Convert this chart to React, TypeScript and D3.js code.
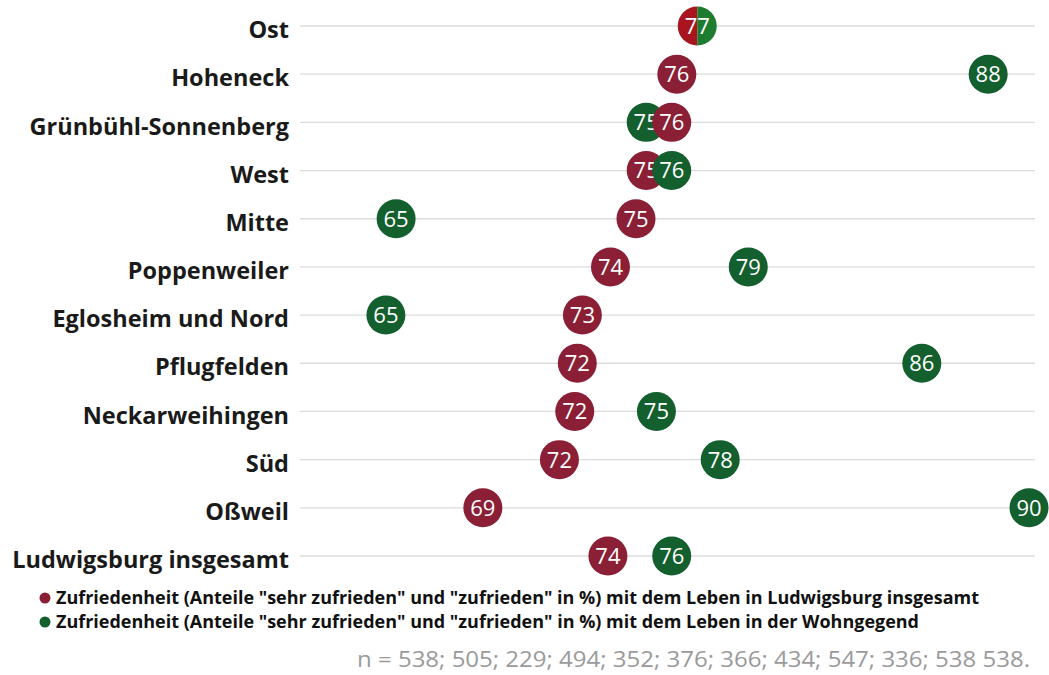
import React, { useEffect, useRef } from 'react';
import * as d3 from 'd3';

const districts = [
  'Ost', 'Hoheneck', 'Grünbühl-Sonnenberg', 'West', 'Mitte', 'Poppenweiler',
  'Eglosheim und Nord', 'Pflugfelden', 'Neckarweihingen', 'Süd', 'Oßweil',
  'Ludwigsburg insgesamt',
];
// Zufriedenheit mit dem Leben in Ludwigsburg insgesamt (%)
const cityValues = [77.0, 76.2, 76.0, 75.0, 74.6, 73.6, 72.5, 72.3, 72.2, 71.6, 68.6, 73.5];
// Zufriedenheit mit dem Leben in der Wohngegend (%)
const areaValues = [77.0, 88.4, 75.0, 76.0, 65.2, 79.0, 64.8, 85.8, 75.4, 77.9, 90.0, 76.0];

const legendLabels = [
  'Zufriedenheit (Anteile "sehr zufrieden" und "zufrieden" in %) mit dem Leben in Ludwigsburg insgesamt',
  'Zufriedenheit (Anteile "sehr zufrieden" und "zufrieden" in %) mit dem Leben in der Wohngegend',
];
const note = 'n = 538; 505; 229; 494; 352; 376; 366; 434; 547; 336; 538 538.';

const RED = '#8a1f35';
const GREEN = '#135f2d';
const RED_HI = '#a8151f';
const GREEN_HI = '#1e7c30';

function App() {
  const ref = useRef<SVGSVGElement>(null);

  useEffect(() => {
    const svg = d3.select(ref.current);
    svg.selectAll('*').remove();

    const x = d3.scaleLinear().domain([65, 90]).range([391, 1029]);
    const y = d3.scalePoint<string>().domain(districts).range([26, 556]);
    const r = 19.5;
    const font = "'Open Sans', sans-serif";

    // grid lines
    svg.append('g')
      .selectAll('line')
      .data(districts)
      .enter().append('line')
      .attr('x1', 300).attr('x2', 1035)
      .attr('y1', (d) => y(d)!).attr('y2', (d) => y(d)!)
      .attr('stroke', '#dcdcdc').attr('stroke-width', 1.3);

    // category labels
    svg.append('g')
      .selectAll('text')
      .data(districts)
      .enter().append('text')
      .attr('x', 289)
      .attr('y', (d) => y(d)! + 4)
      .attr('dy', '0.35em')
      .attr('text-anchor', 'end')
      .style('font-family', font)
      .style('font-weight', 700)
      .style('font-size', '23.5px')
      .style('fill', '#1a1a1a')
      .text((d) => d);

    const pts: { name: string; v: number; color: string }[] = [];
    districts.forEach((name, i) => {
      const a = { name, v: cityValues[i], color: RED };
      const b = { name, v: areaValues[i], color: GREEN };
      if (a.v === b.v) return;
      // right-most point on top
      if (a.v < b.v) pts.push(a, b); else pts.push(b, a);
    });

    const dots = svg.append('g');
    const g = dots.selectAll('g')
      .data(pts)
      .enter().append('g')
      .attr('transform', (d) => `translate(${x(d.v)},${y(d.name)})`);
    g.append('circle').attr('r', r).attr('fill', (d) => d.color);
    g.append('text')
      .attr('text-anchor', 'middle')
      .attr('dy', '0.36em')
      .style('font-family', font)
      .style('font-size', '22px')
      .style('fill', '#fff')
      .text((d) => Math.round(d.v));

    // equal values: split circle
    const half = d3.arc<any>().innerRadius(0).outerRadius(r);
    districts.forEach((name, i) => {
      const a = cityValues[i], b = areaValues[i];
      if (a !== b) return;
      const s = dots.append('g').attr('transform', `translate(${x(a)},${y(name)})`);
      s.append('path').attr('d', half({ startAngle: Math.PI, endAngle: 2 * Math.PI })).attr('fill', RED_HI);
      s.append('path').attr('d', half({ startAngle: 0, endAngle: Math.PI })).attr('fill', GREEN_HI);
      s.append('text')
        .attr('text-anchor', 'middle')
        .attr('dy', '0.36em')
        .style('font-family', font)
        .style('font-size', '22px')
        .style('fill', '#fff')
        .text(Math.round(a));
    });

    // legend
    const lg = svg.append('g');
    const legendWidths = [923, 863];
    legendLabels.forEach((t, i) => {
      const ly = 598 + i * 24;
      lg.append('circle').attr('cx', 45).attr('cy', ly).attr('r', 5.5).attr('fill', i === 0 ? RED : GREEN);
      lg.append('text')
        .attr('x', 56).attr('y', ly)
        .attr('dy', '0.35em')
        .attr('textLength', legendWidths[i])
        .attr('lengthAdjust', 'spacingAndGlyphs')
        .style('font-family', font)
        .style('font-weight', 700)
        .style('font-size', '18.5px')
        .style('fill', '#111')
        .text(t);
    });

    svg.append('text')
      .attr('x', 1030).attr('y', 660)
      .attr('dy', '0.35em')
      .attr('text-anchor', 'end')
      .attr('textLength', 673)
      .attr('lengthAdjust', 'spacingAndGlyphs')
      .style('font-family', font)
      .style('font-size', '21px')
      .style('fill', '#9a9a9a')
      .text(note);

    return () => {
      d3.select(ref.current).selectAll('*').remove();
    };
  }, []);

  return (
    <svg ref={ref} width={1049} height={675}
      style={{ position: 'absolute', left: 0, top: 0, background: '#fff' }} />
  );
}

export default App;
